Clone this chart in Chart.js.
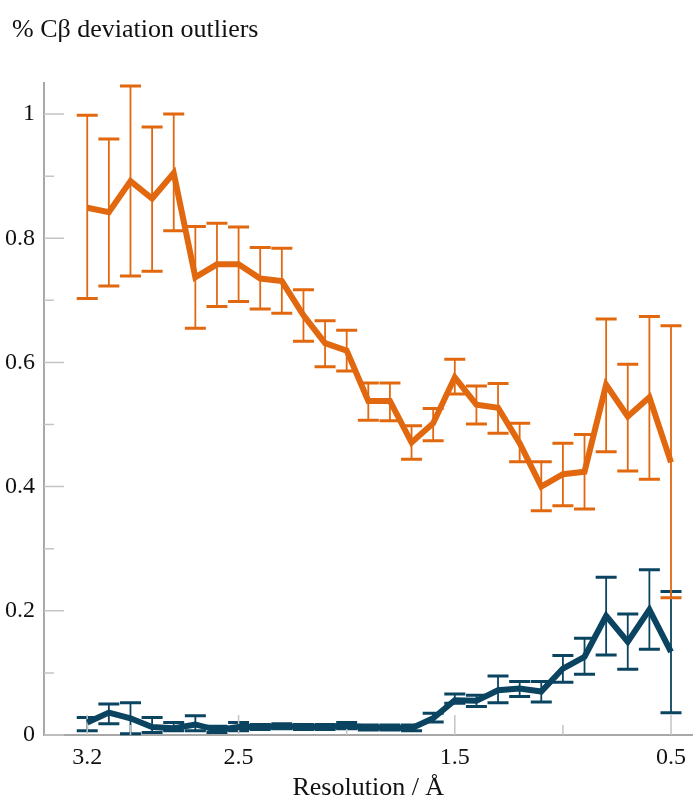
<!DOCTYPE html>
<html>
<head>
<meta charset="utf-8">
<script src="https://cdn.jsdelivr.net/npm/chart.js@4.4.1/dist/chart.umd.min.js"></script>
<style>
  body { margin: 0; background: #fff; }
  #wrap { width: 694px; height: 798px; position: relative; }
</style>
</head>
<body>
<div id="wrap"><canvas id="cbetaChart"></canvas></div>
<script>
// Resolution bins (Å), high to low
const resolution = [3.2, 3.1, 3.0, 2.9, 2.8, 2.7, 2.6, 2.5, 2.4, 2.3, 2.2, 2.1, 2.0, 1.9,
                    1.8, 1.7, 1.6, 1.5, 1.4, 1.3, 1.2, 1.1, 1.0, 0.9, 0.8, 0.7, 0.6, 0.5];

// Orange series
const orangeMean  = [0.849, 0.842, 0.892, 0.864, 0.905, 0.737, 0.758, 0.758, 0.735, 0.731, 0.676, 0.631, 0.619, 0.538,
                     0.538, 0.471, 0.502, 0.576, 0.532, 0.527, 0.470, 0.400, 0.420, 0.424, 0.564, 0.513, 0.544, 0.439];
const orangeUpper = [0.998, 0.960, 1.045, 0.979, 1.000, 0.819, 0.824, 0.818, 0.785, 0.784, 0.717, 0.667, 0.652, 0.567,
                     0.567, 0.498, 0.526, 0.605, 0.562, 0.566, 0.502, 0.440, 0.470, 0.484, 0.670, 0.597, 0.674, 0.659];
const orangeLower = [0.703, 0.723, 0.739, 0.747, 0.812, 0.655, 0.690, 0.698, 0.686, 0.679, 0.634, 0.593, 0.586, 0.507,
                     0.506, 0.444, 0.474, 0.549, 0.501, 0.486, 0.440, 0.361, 0.369, 0.364, 0.456, 0.425, 0.412, 0.221];

// Dark blue series
const blueMean  = [0.020, 0.036, 0.027, 0.013, 0.011, 0.017, 0.008, 0.013, 0.013, 0.014, 0.013, 0.013, 0.015, 0.012,
                   0.012, 0.011, 0.027, 0.056, 0.055, 0.072, 0.075, 0.070, 0.107, 0.126, 0.192, 0.150, 0.202, 0.134];
const blueUpper = [0.028, 0.050, 0.052, 0.028, 0.020, 0.031, 0.014, 0.020, 0.017, 0.018, 0.017, 0.017, 0.020, 0.016,
                   0.016, 0.016, 0.035, 0.066, 0.064, 0.095, 0.086, 0.086, 0.128, 0.156, 0.254, 0.195, 0.266, 0.231];
const blueLower = [0.007, 0.018, 0.002, 0.004, 0.007, 0.007, 0.004, 0.007, 0.009, 0.010, 0.009, 0.009, 0.010, 0.008,
                   0.008, 0.007, 0.021, 0.051, 0.046, 0.052, 0.062, 0.053, 0.085, 0.098, 0.129, 0.106, 0.138, 0.036];

// Axis ticks
const xMajorTicks = [3.2, 2.5, 1.5, 0.5];
const xMinorTicks = [3.0, 2.0, 1.0];
const yMajorTicks = [0, 0.2, 0.4, 0.6, 0.8, 1];
const yMinorTicks = [0.1, 0.3, 0.5, 0.7, 0.9];

const ORANGE = '#e2680f';
const BLUE = '#0b4460';
const SERIF = "'Liberation Serif', 'DejaVu Serif', serif";

function toPoints(values) {
    return resolution.map((r, i) => ({ x: r, y: values[i] }));
}

// Vertical error bars with caps, drawn through the scales
const errorBars = {
    id: 'errorBars',
    beforeDatasetsDraw(chart) {
        const ctx = chart.ctx;
        const x = chart.scales.x;
        const y = chart.scales.y;
        const sets = [
            { lo: blueLower, hi: blueUpper, color: BLUE },
            { lo: orangeLower, hi: orangeUpper, color: ORANGE }
        ];
        ctx.save();
        sets.forEach(s => {
            ctx.strokeStyle = s.color;
            for (let i = 0; i < resolution.length; i++) {
                const px = x.getPixelForValue(resolution[i]);
                const top = y.getPixelForValue(s.hi[i]);
                const bot = y.getPixelForValue(s.lo[i]);
                ctx.lineWidth = 1.8;
                ctx.beginPath();
                ctx.moveTo(px, top);
                ctx.lineTo(px, bot);
                ctx.stroke();
                ctx.lineWidth = 3;
                ctx.beginPath();
                ctx.moveTo(px - 10.5, top);
                ctx.lineTo(px + 10.5, top);
                ctx.moveTo(px - 10.5, bot);
                ctx.lineTo(px + 10.5, bot);
                ctx.stroke();
            }
        });
        ctx.restore();
    }
};

// Inward tick marks and the two axis titles
const axisDecor = {
    id: 'axisDecor',
    beforeDatasetsDraw(chart) {
        const ctx = chart.ctx;
        const x = chart.scales.x;
        const y = chart.scales.y;
        const area = chart.chartArea;
        ctx.save();
        ctx.strokeStyle = '#c4c4c4';
        ctx.lineWidth = 1.5;
        ctx.beginPath();
        xMajorTicks.concat(xMinorTicks).forEach(v => {
            const px = x.getPixelForValue(v);
            const len = xMajorTicks.includes(v) ? 20 : 10;
            ctx.moveTo(px, area.bottom);
            ctx.lineTo(px, area.bottom - len);
        });
        yMajorTicks.concat(yMinorTicks).forEach(v => {
            const py = y.getPixelForValue(v);
            const len = yMajorTicks.includes(v) ? 20 : 10;
            ctx.moveTo(area.left, py);
            ctx.lineTo(area.left + len, py);
        });
        ctx.stroke();
        ctx.restore();
    },
    afterDraw(chart) {
        const ctx = chart.ctx;
        const area = chart.chartArea;
        ctx.save();
        ctx.fillStyle = '#111';
        ctx.font = '26px ' + SERIF;
        ctx.textBaseline = 'alphabetic';
        ctx.textAlign = 'left';
        ctx.fillText('% C\u03b2 deviation outliers', 12, 37);
        ctx.textAlign = 'center';
        ctx.fillText('Resolution / \u00c5', (area.left + area.right) / 2, 795);
        ctx.restore();
    }
};

const ctx = document.getElementById('cbetaChart').getContext('2d');
const cbetaChart = new Chart(ctx, {
    type: 'line',
    data: {
        datasets: [
            {
                label: 'Orange',
                data: toPoints(orangeMean),
                borderColor: ORANGE,
                backgroundColor: ORANGE,
                borderWidth: 6,
                pointRadius: 0,
                tension: 0,
                fill: false
            },
            {
                label: 'Blue',
                data: toPoints(blueMean),
                borderColor: BLUE,
                backgroundColor: BLUE,
                borderWidth: 6,
                pointRadius: 0,
                tension: 0,
                fill: false
            }
        ]
    },
    options: {
        responsive: true,
        maintainAspectRatio: false,
        animation: false,
        layout: { padding: { top: 83, right: 0, left: 0, bottom: 0 } },
        scales: {
            x: {
                type: 'linear',
                reverse: true,
                min: 0.4,
                max: 3.4,
                afterBuildTicks: s => { s.ticks = xMajorTicks.map(v => ({ value: v })); },
                afterFit: s => { s.height = 63; },
                grid: { display: false, drawTicks: false },
                border: { display: true, color: '#a8a8a8', width: 2 },
                ticks: {
                    autoSkip: false,
                    maxRotation: 0,
                    padding: 8,
                    color: '#111',
                    font: { family: SERIF, size: 24 },
                    callback: v => String(v)
                }
            },
            y: {
                min: 0,
                max: 1.05,
                afterBuildTicks: s => { s.ticks = yMajorTicks.map(v => ({ value: v })); },
                afterFit: s => { s.width = 44; },
                grid: { display: false, drawTicks: false },
                border: { display: true, color: '#a8a8a8', width: 2 },
                ticks: {
                    padding: 9,
                    color: '#111',
                    font: { family: SERIF, size: 24 },
                    callback: v => String(v)
                }
            }
        },
        plugins: {
            legend: { display: false },
            tooltip: { enabled: false },
            title: { display: false }
        }
    },
    plugins: [errorBars, axisDecor]
});
</script>
</body>
</html>
